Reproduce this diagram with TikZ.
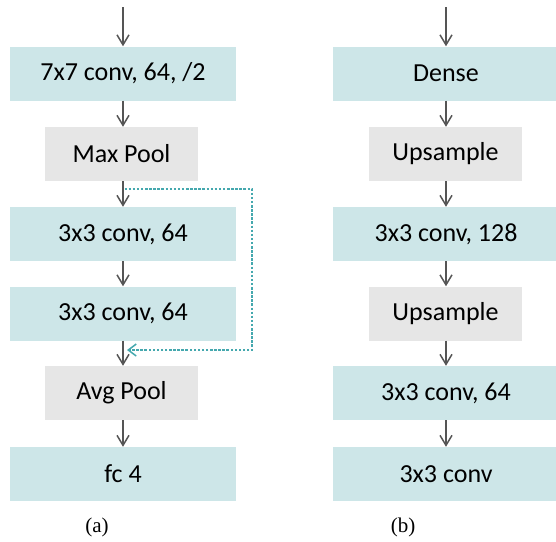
\documentclass[tikz,border=0pt]{standalone}
\usepackage{fontspec}
\setmainfont{Carlito}
\newfontfamily\capfont{Liberation Serif}
\usetikzlibrary{arrows.meta}
\definecolor{tealbox}{HTML}{CDE6E8}
\definecolor{graybox}{HTML}{E6E6E6}
\definecolor{arrowgray}{HTML}{555555}
\definecolor{dashteal}{HTML}{45A8AE}
\begin{document}
\begin{tikzpicture}[x=1pt,y=-1pt,
  wide/.style={fill=tealbox,draw=none,minimum width=226pt,minimum height=54pt,inner sep=0pt,font=\fontsize{26}{30}\selectfont},
  narrow/.style={fill=graybox,draw=none,minimum width=153pt,minimum height=54pt,inner sep=0pt,font=\fontsize{26}{30}\selectfont},
  flow/.style={draw=arrowgray,line width=1.6pt,-{Straight Barb[length=10pt,width=12pt,line width=1.5pt]}},
  skip/.style={draw=dashteal,line width=2.3pt,dash pattern=on 2.5pt off 1.6pt,-{Straight Barb[length=8pt,width=12pt,line width=1.5pt]}},
  caption/.style={font=\capfont\fontsize{21}{24}\selectfont}]
\useasboundingbox (0,0) rectangle (556,541);
% left column
\coordinate (ta) at (123,7);
\node[wide] (a1) at (123,73.5) {7x7 conv, 64, /2};
\node[narrow] (a2) at (121.5,154) {Max Pool};
\node[wide] (a3) at (123,234) {3x3 conv, 64};
\node[wide] (a4) at (123,313.5) {3x3 conv, 64};
\node[narrow] (a5) at (121.5,393) {Avg Pool};
\node[wide] (a6) at (123,474) {fc 4};
\draw[flow] (ta) -- (a1.north -| ta);
\draw[flow] (a1.south -| ta) -- (a2.north -| ta);
\draw[flow] (a2.south -| ta) -- (a3.north -| ta);
\draw[flow] (a3.south -| ta) -- (a4.north -| ta);
\draw[flow] (a4.south -| ta) -- (a5.north -| ta);
\draw[flow] (a5.south -| ta) -- (a6.north -| ta);
\coordinate (s1) at (124.5,189);
\coordinate (s2) at (252,189);
\coordinate (s3) at (252,350);
\coordinate (s4) at (127,350);
\draw[skip] (s1) -- (s2) -- (s3) -- (s4);
% right column
\coordinate (tb) at (446,7);
\node[wide] (b1) at (446,73.5) {Dense};
\node[narrow] (b2) at (445.5,154) {Upsample};
\node[wide] (b3) at (446,234) {3x3 conv, 128};
\node[narrow] (b4) at (445.5,313.5) {Upsample};
\node[wide] (b5) at (446,393) {3x3 conv, 64};
\node[wide] (b6) at (446,474) {3x3 conv};
\draw[flow] (tb) -- (b1.north -| tb);
\draw[flow] (b1.south -| tb) -- (b2.north -| tb);
\draw[flow] (b2.south -| tb) -- (b3.north -| tb);
\draw[flow] (b3.south -| tb) -- (b4.north -| tb);
\draw[flow] (b4.south -| tb) -- (b5.north -| tb);
\draw[flow] (b5.south -| tb) -- (b6.north -| tb);
% captions
\node[caption] (ca) at (97,527) {(a)};
\node[caption] (cb) at (403,527) {(b)};
\end{tikzpicture}
\end{document}
